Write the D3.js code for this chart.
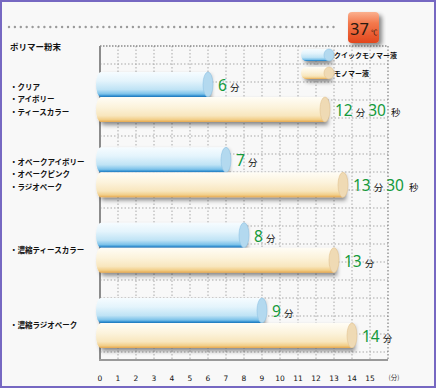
<!DOCTYPE html>
<html>
<head>
<meta charset="utf-8">
<script src="https://cdn.jsdelivr.net/npm/d3@7"></script>
<style>
  body { margin: 0; background: #fff; }
  svg { display: block; }
</style>
</head>
<body>
<div id="chart"></div>
<script>
// data
var groups = ["g1", "g2", "g3", "g4"];
var groupLabels = [
  ["・クリア", "・アイボリー", "・ティースカラー"],
  ["・オペークアイボリー", "・オペークピンク", "・ラジオペーク"],
  ["・濃縮ティースカラー"],
  ["・濃縮ラジオペーク"]
];
var quickValues = [6, 7, 8, 9];          // クイックモノマー液 (分)
var normalValues = [12.5, 13.5, 13, 14];  // モノマー液 (分)
var seriesNames = ["クイックモノマー液", "モノマー液"];
var xTicks = [0, 1, 2, 3, 4, 5, 6, 7, 8, 9, 10, 11, 12, 13, 14, 15];

var W = 436, H = 389;
var jp = "'Noto Sans CJK JP', sans-serif";

var svg = d3.select("#chart").append("svg")
  .attr("width", W).attr("height", H);

var defs = svg.append("defs");

function vGrad(id, stops) {
  var g = defs.append("linearGradient").attr("id", id)
    .attr("x1", 0).attr("y1", 0).attr("x2", 0).attr("y2", 1);
  stops.forEach(s => g.append("stop").attr("offset", s[0]).attr("stop-color", s[1]));
}
vGrad("gBlue", [["0%", "#f6fcff"], ["35%", "#e4f4fc"], ["70%", "#bfe3f5"], ["88%", "#7cc2ea"], ["94%", "#3f9ad6"], ["100%", "#1b78c0"]]);
vGrad("gCream", [["0%", "#fffdf6"], ["40%", "#fcf3dc"], ["75%", "#f8e6bd"], ["90%", "#f2cf8a"], ["100%", "#e6a84e"]]);
vGrad("gBadge", [["0%", "#fbb08e"], ["35%", "#f37a4e"], ["100%", "#e2461c"]]);

var sh = defs.append("filter").attr("id", "shadow")
  .attr("x", "-10%").attr("y", "-30%").attr("width", "130%").attr("height", "190%");
sh.append("feDropShadow").attr("dx", 3).attr("dy", 3).attr("stdDeviation", 2)
  .attr("flood-color", "#000").attr("flood-opacity", 0.45);

// background + border
svg.append("rect").attr("x", 1).attr("y", 1).attr("width", W - 2).attr("height", H - 3)
  .attr("fill", "#f8f8f8").attr("stroke", "#7668c2").attr("stroke-width", 2);

// scales
var x = d3.scaleLinear().domain([0, 16]).range([100, 388]);
var y = d3.scalePoint().domain(groups).range([97, 323]);
var barH = 25;
var gridTop = 46, gridBottom = 360;

// top dotted rule
svg.append("line").attr("x1", 9).attr("x2", 338).attr("y1", 27).attr("y2", 27)
  .attr("stroke", "#9a9a9a").attr("stroke-width", 2.4)
  .attr("stroke-linecap", "round").attr("stroke-dasharray", "0,5.9");

// 37℃ badge
var badge = svg.append("g");
badge.append("rect").attr("x", 348).attr("y", 12).attr("width", 31).attr("height", 31)
  .attr("rx", 4).attr("fill", "url(#gBadge)").attr("filter", "url(#shadow)");
badge.append("text").attr("x", 350).attr("y", 35).text("37")
  .attr("font-family", "'Noto Sans', sans-serif").attr("font-size", 16.5).attr("fill", "#2a1a10");
badge.append("text").attr("x", 371).attr("y", 35).text("℃")
  .attr("font-family", jp).attr("font-size", 6.5).attr("fill", "#2a1a10");

// title
svg.append("text").attr("x", 10).attr("y", 50).text("ポリマー粉末")
  .attr("font-family", jp).attr("font-size", 8.5).attr("font-weight", "bold").attr("fill", "#111");

// grid
var grid = svg.append("g");
var hLines = d3.range(gridTop + 18, gridBottom - 4, 18);
grid.selectAll(".hg").data(hLines).join("line")
  .attr("x1", 100).attr("x2", x(16)).attr("y1", d => d).attr("y2", d => d)
  .attr("stroke", "#a8a8a8").attr("stroke-width", 1).attr("stroke-dasharray", "1.5,2");
grid.selectAll(".vg").data(d3.range(1, 17)).join("line")
  .attr("x1", d => x(d)).attr("x2", d => x(d)).attr("y1", gridTop).attr("y2", gridBottom)
  .attr("stroke", d => d === 16 ? "#666" : "#a8a8a8").attr("stroke-width", 1)
  .attr("stroke-dasharray", "1.5,2");
grid.append("line").attr("x1", 100).attr("x2", x(16)).attr("y1", gridTop).attr("y2", gridTop)
  .attr("stroke", "#555").attr("stroke-width", 1).attr("stroke-dasharray", "1.5,1.5");
// axis frame
grid.append("line").attr("x1", 100).attr("x2", 100).attr("y1", gridTop).attr("y2", gridBottom)
  .attr("stroke", "#8c8c8c").attr("stroke-width", 2);
grid.append("line").attr("x1", 99).attr("x2", x(16)).attr("y1", gridBottom).attr("y2", gridBottom)
  .attr("stroke", "#9a9a9a").attr("stroke-width", 2);

// x tick labels
svg.selectAll(".xt").data(xTicks).join("text")
  .attr("x", d => x(d)).attr("y", 381).attr("text-anchor", "middle")
  .attr("font-family", "'DejaVu Sans', sans-serif").attr("font-size", 7.5).attr("fill", "#111")
  .text(d => d);
svg.append("text").attr("x", 394).attr("y", 380).attr("text-anchor", "middle")
  .attr("font-family", jp).attr("font-size", 6.5).attr("fill", "#333").text("(分)");

// cylinder drawing
function cylinder(g, x0, x1, top, h, fill, cap, edge) {
  var ry = h / 2, rx = 5;
  var c = g.append("g");
  c.append("path")
    .attr("d", `M${x1},${top} L${x0},${top} A${rx},${ry} 0 0 0 ${x0},${top + h} L${x1},${top + h} Z`)
    .attr("fill", fill).attr("filter", "url(#shadow)");
  c.append("ellipse").attr("cx", x1).attr("cy", top + ry).attr("rx", rx).attr("ry", ry)
    .attr("fill", cap).attr("stroke", edge).attr("stroke-width", 0.6);
}

var bars = svg.append("g");
groups.forEach((gk, i) => {
  var cy = y(gk);
  cylinder(bars, 101, x(quickValues[i]), cy - barH, barH, "url(#gBlue)", "#b3d9ef", "#8ec3e4");
  cylinder(bars, 101, x(normalValues[i]), cy, barH, "url(#gCream)", "#efdab4", "#e2c391");
});

// value labels
function valueLabel(v, xp, yb) {
  var t = svg.append("text").attr("x", xp).attr("y", yb);
  var m = Math.floor(v), s = Math.round((v - m) * 60);
  t.append("tspan").text(m).attr("font-family", "'Noto Sans', sans-serif").attr("font-size", 15.5).attr("fill", "#149a3c");
  t.append("tspan").text("分").attr("dx", 3).attr("font-family", jp).attr("font-size", 9.5).attr("fill", "#111");
  if (s > 0) {
    t.append("tspan").text(s).attr("dx", 3).attr("font-family", "'Noto Sans', sans-serif").attr("font-size", 15.5).attr("fill", "#149a3c");
    t.append("tspan").text("秒").attr("dx", 5).attr("font-family", jp).attr("font-size", 9.5).attr("fill", "#111");
  }
}
groups.forEach((gk, i) => {
  var cy = y(gk);
  valueLabel(quickValues[i], x(quickValues[i]) + 10, cy - 6);
  valueLabel(normalValues[i], x(normalValues[i]) + 10, cy + 19);
});

// category labels
groups.forEach((gk, i) => {
  var lines = groupLabels[i];
  var cy = y(gk) + 2 - (lines.length - 1) * 12.5 / 2;
  svg.selectAll(null).data(lines).join("text")
    .attr("x", 10).attr("y", (d, j) => cy + j * 12.5 + 3)
    .attr("font-family", jp).attr("font-size", 7.5).attr("font-weight", "bold").attr("fill", "#111")
    .text(d => d);
});

// legend
var legend = svg.append("g");
var legFills = [["url(#gBlue)", "#b3d9ef", "#8ec3e4"], ["url(#gCream)", "#efdab4", "#e2c391"]];
seriesNames.forEach((n, i) => {
  var ly = 49 + i * 18;
  cylinder(legend, 306, 329, ly, 12, legFills[i][0], legFills[i][1], legFills[i][2]);
  legend.append("text").attr("x", 334).attr("y", ly + 9).text(n)
    .attr("font-family", jp).attr("font-size", 7).attr("font-weight", "bold").attr("fill", "#111");
});
</script>
</body>
</html>
